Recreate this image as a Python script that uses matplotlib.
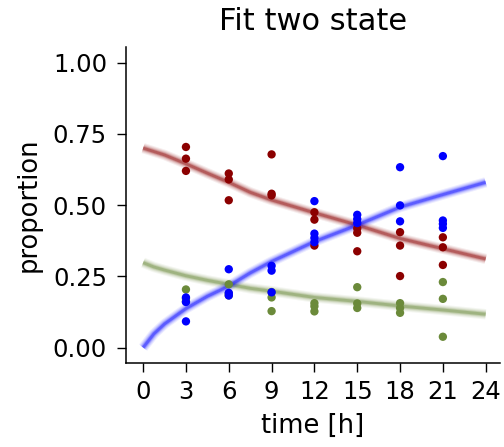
import numpy as np
import matplotlib
matplotlib.use("Agg")
import matplotlib.pyplot as plt

# ---- data ----
red_t = [3, 3, 3, 6, 6, 6, 9, 9, 9, 12, 12, 12, 15, 15, 15, 18, 18, 18, 21, 21, 21]
red_y = [0.704, 0.663, 0.620, 0.611, 0.590, 0.517, 0.678, 0.540, 0.534,
         0.475, 0.449, 0.358, 0.418, 0.403, 0.338, 0.405, 0.358, 0.251,
         0.387, 0.352, 0.290]

green_t = [3, 3, 3, 6, 6, 6, 9, 9, 9, 12, 12, 12, 15, 15, 15, 18, 18, 18, 21, 21, 21]
green_y = [0.204, 0.172, 0.162, 0.222, 0.190, 0.183, 0.195, 0.176, 0.128,
           0.156, 0.145, 0.127, 0.212, 0.155, 0.139, 0.156, 0.139, 0.122,
           0.230, 0.171, 0.038]

blue_t = [3, 3, 3, 6, 6, 6, 9, 9, 9, 12, 12, 12, 12, 15, 15, 15, 18, 18, 18, 21, 21, 21, 21]
blue_y = [0.176, 0.160, 0.092, 0.275, 0.192, 0.183, 0.287, 0.270, 0.194,
          0.514, 0.400, 0.385, 0.370, 0.466, 0.451, 0.437, 0.633, 0.499, 0.443,
          0.672, 0.446, 0.434, 0.420]

fit_t = [0, 0.75, 1.5, 3, 4.5, 6, 7.5, 9, 12, 15, 18, 21, 24]
fit_red = [0.700, 0.688, 0.676, 0.645, 0.612, 0.580, 0.545, 0.518, 0.473, 0.430, 0.383, 0.347, 0.311]
fit_blue = [0.000, 0.048, 0.083, 0.137, 0.180, 0.216, 0.262, 0.302, 0.372, 0.430, 0.493, 0.537, 0.580]
fit_green = [0.298, 0.283, 0.272, 0.252, 0.236, 0.222, 0.208, 0.198, 0.176, 0.162, 0.146, 0.132, 0.117]

xticks = [0, 3, 6, 9, 12, 15, 18, 21, 24]
yticks = [0.00, 0.25, 0.50, 0.75, 1.00]

RED = "#8b0000"
GREEN = "#6b8a3a"
BLUE = "#0000ff"

fig = plt.figure(figsize=(5.04, 4.47), dpi=100)
ax = fig.add_axes([0.25, 0.1886, 0.742, 0.707])

for ys, c in [(fit_red, RED), (fit_green, GREEN), (fit_blue, BLUE)]:
    for lw, a in [(7.5, 0.07), (6, 0.10), (4.5, 0.14), (3.2, 0.22), (2, 0.35)]:
        ax.plot(fit_t, ys, color=c, lw=lw, alpha=a, solid_capstyle="butt",
                solid_joinstyle="round", zorder=1)

ax.scatter(red_t, red_y, s=36, color=RED, edgecolors="none", zorder=3)
ax.scatter(green_t, green_y, s=36, color=GREEN, edgecolors="none", zorder=3)
ax.scatter(blue_t, blue_y, s=36, color=BLUE, edgecolors="none", zorder=3)

ax.set_xlim(-1.2, 25.0)
ax.set_ylim(-0.053, 1.056)
ax.set_xticks(xticks)
ax.set_xticklabels([str(v) for v in xticks])
ax.set_yticks(yticks)
ax.set_yticklabels([f"{v:.2f}" for v in yticks])

for s in ["top", "right"]:
    ax.spines[s].set_visible(False)
for s in ["left", "bottom"]:
    ax.spines[s].set_linewidth(1.1)
ax.tick_params(axis="both", length=6.2, width=1.0, labelsize=17.5)
ax.tick_params(axis="x", pad=6.5)
ax.tick_params(axis="y", pad=7.5)

ax.set_xlabel("time [h]", fontsize=18.5, labelpad=6)
ax.set_ylabel("proportion", fontsize=18.5, labelpad=8)
ax.set_title("Fit two state", fontsize=22, pad=12)

fig.savefig("out.png", dpi=100)
